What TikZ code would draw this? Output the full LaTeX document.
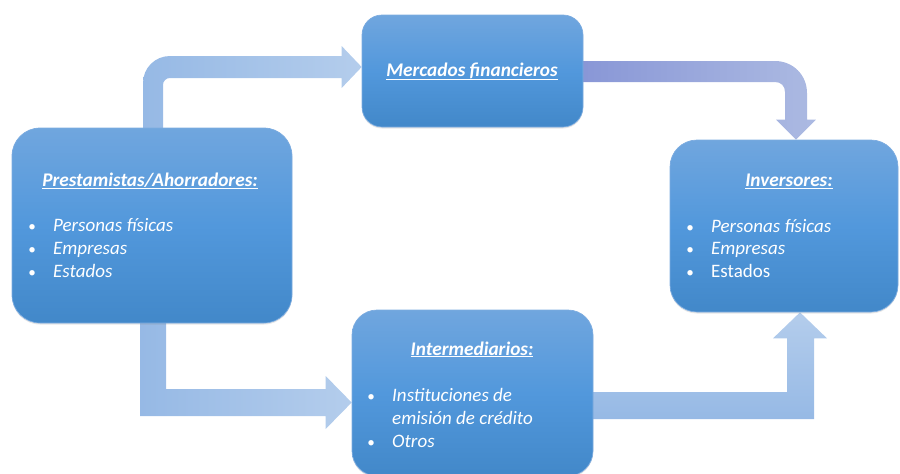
\documentclass[tikz,border=0pt]{standalone}
\usepackage{fontspec}
\setmainfont{Carlito}
\usetikzlibrary{calc,backgrounds,shadows}
\definecolor{boxtop}{RGB}{112,166,222}
\definecolor{boxmid}{RGB}{82,152,220}
\definecolor{boxbot}{RGB}{66,136,201}
\definecolor{boxline}{RGB}{125,172,224}
\definecolor{arrA}{RGB}{150,185,229}
\definecolor{arrB}{RGB}{180,205,236}
\definecolor{arrPa}{RGB}{136,150,214}
\definecolor{arrPb}{RGB}{172,186,226}
\newcommand{\mybullet}{\makebox[0pt][c]{\scalebox{0.8}{•}}\hspace{21pt}}
\begin{document}
\begin{tikzpicture}[x=1pt,y=1pt,
  box/.style={draw=boxline, line width=0.7pt, top color=boxtop, bottom color=boxbot, middle color=boxmid, inner sep=0pt,
    drop shadow={opacity=0.2, shadow xshift=0pt, shadow yshift=-1.5pt}},
  ttl/.style={text=white, font=\fontsize{19.3}{23}\selectfont\bfseries\itshape, inner sep=0pt, anchor=base},
  itm/.style={text=white, font=\fontsize{19}{23}\selectfont, inner sep=0pt, anchor=base west}]
\useasboundingbox (0,0) rectangle (900,-474);
% boxes
\node[box, rounded corners=28pt, minimum width=280pt, minimum height=195pt] (P) at (152,-225.5) {};
\node[box, rounded corners=20pt, minimum width=221pt, minimum height=112pt] (M) at (472.5,-71) {};
\node[box, rounded corners=27pt, minimum width=228pt, minimum height=172pt] (I) at (784,-226) {};
\node[box, rounded corners=25pt, minimum width=241pt, minimum height=166pt] (N) at (472.5,-393) {};
% texts
\node[ttl] (Pt) at (150,-186) {\underline{Prestamistas/Ahorradores:}};
\node[itm] (P1) at (32,-231) {\mybullet\textit{Personas físicas}};
\node[itm] (P2) at (32,-254) {\mybullet\textit{Empresas}};
\node[itm] (P3) at (32,-277) {\mybullet\textit{Estados}};
\node[ttl] (Mt) at (472,-76) {\underline{Mercados financieros}};
\node[ttl] (It) at (789,-186.5) {\underline{Inversores:}};
\node[itm] (I1) at (690,-232) {\mybullet\textit{Personas físicas}};
\node[itm] (I2) at (690,-254.5) {\mybullet\textit{Empresas}};
\node[itm] (I3) at (690,-277.5) {\mybullet Estados};
\node[ttl] (Nt) at (472,-355) {\underline{Intermediarios:}};
\node[itm] (N1) at (371,-401.5) {\mybullet\textit{Instituciones de}};
\node[itm] (N2) at (392,-424) {\textit{emisión de crédito}};
\node[itm] (N3) at (371,-447.5) {\mybullet\textit{Otros}};
% arrows
\begin{scope}[on background layer]
\path[left color=arrA, right color=arrB]
 let \p1=(P.north), \p2=(M.west), \n1={\y2+4} in
 (\x1-9,\y1-6) -- (\x1-9,\n1+11-27) .. controls (\x1-9,\n1+11-12) and (\x1-9+12,\n1+11) .. (\x1-9+27,\n1+11)
 -- (\x2-20,\n1+11) -- (\x2-20,\n1+21) -- (\x2,\n1) -- (\x2-20,\n1-21) -- (\x2-20,\n1-11)
 -- (\x1+11+7,\n1-11) .. controls (\x1+11+3,\n1-11) and (\x1+11,\n1-11-3) .. (\x1+11,\n1-11-7)
 -- (\x1+11,\y1-6) -- cycle;
\path[left color=arrPa, right color=arrPb]
 let \p1=(M.east), \p2=(I.north) in
 (\x1-6,\y1+10) -- (\x2+23-32,\y1+10) .. controls (\x2+23-14,\y1+10) and (\x2+23,\y1+10-14) .. (\x2+23,\y1+10-32)
 -- (\x2+23,\y2+20) -- (\x2+32,\y2+20) -- (\x2+12,\y2) -- (\x2-8,\y2+20) -- (\x2+1,\y2+20)
 -- (\x2+1,\y1-11-10) .. controls (\x2+1,\y1-11-4) and (\x2+1-4,\y1-11) .. (\x2+1-10,\y1-11)
 -- (\x1-6,\y1-11) -- cycle;
\path[left color=arrA, right color=arrB]
 let \p1=(P.south), \p2=(N.west), \n1={\y2-9.5} in
 (\x1-12,\y1+6) -- (\x1-12,\n1-13.5) -- (\x2-26,\n1-13.5) -- (\x2-26,\n1-26.5) -- (\x2,\n1)
 -- (\x2-26,\n1+26.5) -- (\x2-26,\n1+13.5) -- (\x1+14,\n1+13.5) -- (\x1+14,\y1+6) -- cycle;
\path[bottom color=arrA, top color=arrB]
 let \p1=(N.east), \p2=(I.south), \n1={\y1-12.5} in
 (\x1-6,\n1+13.5) -- (\x2+3,\n1+13.5) -- (\x2+3,\y2-26) -- (\x2-11,\y2-26) -- (\x2+16,\y2)
 -- (\x2+43,\y2-26) -- (\x2+30,\y2-26) -- (\x2+30,\n1-13.5) -- (\x1-6,\n1-13.5) -- cycle;
\end{scope}
\end{tikzpicture}
\end{document}
